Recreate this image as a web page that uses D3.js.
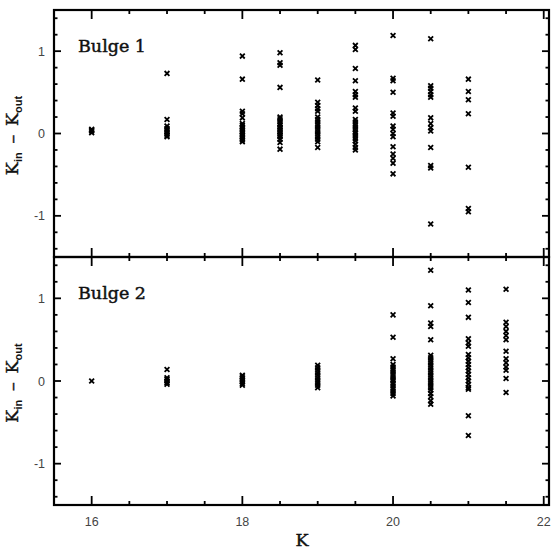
<!DOCTYPE html>
<html><head><meta charset="utf-8">
<script src="https://cdn.jsdelivr.net/npm/d3@7"></script>
<style>body{margin:0;background:#fff}</style>
</head><body>
<svg id="c" width="560" height="557"></svg>
<script>
// Bulge 1: K magnitude columns and K_in - K_out values
const bulge1K = [16, 17, 18, 18.5, 19, 19.5, 20, 20.5, 21];
const bulge1Diff = [
  [0.01, 0.03, 0.04, 0.05],
  [0.73, 0.17, 0.09, 0.06, 0.04, 0.02, 0.0, -0.02, -0.04],
  [0.94, 0.66, 0.27, 0.24, 0.19, 0.12, 0.10, 0.08, 0.06, 0.04, 0.02, 0.0, -0.02, -0.04, -0.06, -0.08, -0.10],
  [0.98, 0.86, 0.83, 0.56, 0.20, 0.18, 0.15, 0.12, 0.10, 0.08, 0.06, 0.04, 0.02, 0.0, -0.02, -0.04, -0.07, -0.11, -0.19],
  [0.65, 0.38, 0.34, 0.30, 0.27, 0.20, 0.17, 0.14, 0.11, 0.08, 0.05, 0.02, -0.01, -0.04, -0.07, -0.10, -0.17],
  [1.07, 1.02, 0.79, 0.64, 0.51, 0.47, 0.44, 0.31, 0.27, 0.17, 0.14, 0.11, 0.08, 0.05, 0.02, 0.0, -0.03, -0.06, -0.09, -0.13, -0.17, -0.20],
  [1.19, 0.67, 0.64, 0.50, 0.25, 0.21, 0.09, 0.05, 0.0, -0.04, -0.16, -0.25, -0.30, -0.36, -0.49],
  [1.15, 0.58, 0.55, 0.51, 0.47, 0.44, 0.19, 0.12, 0.07, 0.03, -0.17, -0.39, -0.42, -1.10],
  [0.66, 0.51, 0.41, 0.24, -0.41, -0.91, -0.95]
];
// Bulge 2
const bulge2K = [16, 17, 18, 19, 20, 20.5, 21, 21.5];
const bulge2Diff = [
  [0.0],
  [0.14, 0.04, 0.02, 0.0, -0.02, -0.04],
  [0.07, 0.05, 0.03, 0.01, -0.01, -0.03, -0.05],
  [0.19, 0.16, 0.13, 0.10, 0.07, 0.04, 0.01, -0.02, -0.05, -0.08],
  [0.80, 0.53, 0.27, 0.20, 0.17, 0.14, 0.11, 0.08, 0.05, 0.02, 0.0, -0.03, -0.06, -0.09, -0.12, -0.15, -0.18],
  [1.34, 0.91, 0.70, 0.66, 0.50, 0.31, 0.28, 0.25, 0.22, 0.19, 0.16, 0.13, 0.10, 0.07, 0.04, 0.01, -0.02, -0.05, -0.08, -0.11, -0.15, -0.19, -0.24, -0.28],
  [1.10, 0.95, 0.77, 0.51, 0.46, 0.42, 0.32, 0.28, 0.24, 0.20, 0.16, 0.12, 0.08, 0.04, 0.0, -0.04, -0.08, -0.10, -0.42, -0.66],
  [1.11, 0.71, 0.66, 0.60, 0.55, 0.50, 0.36, 0.27, 0.22, 0.17, 0.13, 0.03, -0.14]
];
const panelNames = ["Bulge 1", "Bulge 2"];
const xTickLabels = [16, 18, 20, 22];
const yTickLabels = [-1, 0, 1];

const svg = d3.select("#c");
const L = 54, R = 549;
const x = d3.scaleLinear().domain([15.5, 22.07]).range([L, R]);
const panels = [
  {name: panelNames[0], ks: bulge1K, vals: bulge1Diff, top: 10, bot: 257},
  {name: panelNames[1], ks: bulge2K, vals: bulge2Diff, top: 257, bot: 505}
];
const xMinor = d3.range(15.5, 22.01, 0.5);
const yMinor = d3.range(-14, 15, 2).map(d => d / 10);
const serif = "DejaVu Serif, serif";
const sans = "Liberation Sans, Arial, sans-serif";

panels.forEach((p, pi) => {
  const y = d3.scaleLinear().domain([-1.5, 1.5]).range([p.bot, p.top]);
  const g = svg.append("g");
  const tk = g.append("g").attr("stroke", "#000").attr("stroke-width", 1.8);
  xMinor.forEach(v => {
    const major = Math.abs(v % 2) < 1e-9;
    const len = major ? 9 : 4;
    tk.append("line").attr("x1", x(v)).attr("x2", x(v)).attr("y1", p.bot).attr("y2", p.bot - len);
    tk.append("line").attr("x1", x(v)).attr("x2", x(v)).attr("y1", p.top).attr("y2", p.top + len);
  });
  yMinor.forEach(v => {
    const major = Math.abs(Math.round(v) - v) < 1e-9;
    const len = major ? 7 : 3.5;
    tk.append("line").attr("x1", L).attr("x2", L + len).attr("y1", y(v)).attr("y2", y(v));
    tk.append("line").attr("x1", R).attr("x2", R - len).attr("y1", y(v)).attr("y2", y(v));
  });
  g.selectAll("text.yt").data(yTickLabels).join("text")
    .attr("x", 45).attr("y", d => y(d) + 4.5)
    .attr("text-anchor", "end")
    .attr("font-family", sans).attr("font-size", 12.5)
    .attr("fill", "#444").text(d => d);
  const pts = [];
  p.ks.forEach((k, i) => p.vals[i].forEach(v => pts.push([k, v])));
  const s = 2.4;
  g.append("g").attr("stroke", "#000").attr("stroke-width", 1.8)
    .selectAll("path").data(pts).join("path")
    .attr("d", d => {
      const cx = x(d[0]), cy = y(d[1]);
      return `M${cx - s},${cy - s}L${cx + s},${cy + s}M${cx - s},${cy + s}L${cx + s},${cy - s}`;
    });
  g.append("rect").attr("x", L).attr("y", p.top).attr("width", R - L).attr("height", p.bot - p.top)
    .attr("fill", "none").attr("stroke", "#000").attr("stroke-width", 2.2);
  g.append("text").attr("x", 78).attr("y", p.top + 42)
    .attr("font-family", serif).attr("font-size", 17.5)
    .attr("fill", "#111").attr("stroke", "#111").attr("stroke-width", 0.45).text(p.name);
  const yc = (p.top + p.bot) / 2 + 2;
  const t = g.append("text").attr("transform", `translate(18,${yc}) rotate(-90)`)
    .attr("text-anchor", "middle").attr("fill", "#111").attr("stroke", "#111").attr("stroke-width", 0.4)
    .attr("font-family", serif).attr("font-size", 17.5);
  t.append("tspan").text("K");
  t.append("tspan").attr("font-family", sans).attr("font-weight", "bold")
    .attr("font-size", 11).attr("dy", 4).attr("stroke-width", 0).text("in");
  t.append("tspan").attr("dy", -4).attr("xml:space", "preserve").text("\u2002\u2013\u2002K");
  t.append("tspan").attr("font-family", sans).attr("font-weight", "bold")
    .attr("font-size", 11).attr("dy", 4).attr("stroke-width", 0).text("out");
});

svg.selectAll("text.xt").data(xTickLabels).join("text")
  .attr("x", d => x(d)).attr("y", 526).attr("text-anchor", "middle")
  .attr("font-family", sans).attr("font-size", 12.5)
  .attr("fill", "#444").text(d => d);
svg.append("text").attr("x", 302).attr("y", 546).attr("text-anchor", "middle")
  .attr("font-family", serif).attr("font-size", 17.5).attr("fill", "#111")
  .attr("stroke", "#111").attr("stroke-width", 0.45).text("K");
</script>
</body></html>
